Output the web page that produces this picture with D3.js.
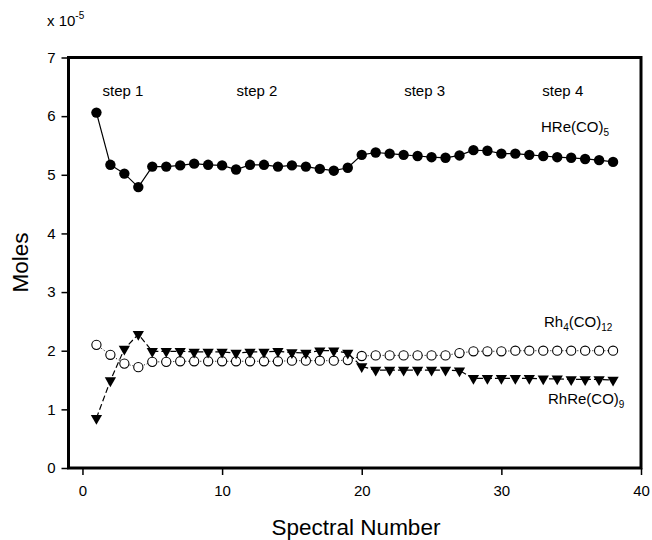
<!DOCTYPE html>
<html>
<head>
<meta charset="utf-8">
<script src="https://cdn.jsdelivr.net/npm/d3@7"></script>
<style>
  body { margin: 0; background: #fff; }
  text { font-family: "Liberation Sans", Arial, sans-serif; fill: #000; }
</style>
</head>
<body>
<div id="chart"></div>
<script>
const spectra = d3.range(1, 39);
const hre = [6.06, 5.17, 5.02, 4.79, 5.14, 5.14, 5.16, 5.19, 5.17, 5.16,
             5.09, 5.17, 5.17, 5.14, 5.16, 5.14, 5.10, 5.07, 5.12, 5.34,
             5.38, 5.36, 5.34, 5.32, 5.30, 5.29, 5.33, 5.42, 5.41, 5.36,
             5.36, 5.34, 5.32, 5.30, 5.29, 5.27, 5.25, 5.22];
const rh4 = [2.10, 1.93, 1.78, 1.72, 1.81, 1.81, 1.82, 1.82, 1.82, 1.82,
             1.82, 1.82, 1.82, 1.82, 1.83, 1.83, 1.83, 1.83, 1.84, 1.91,
             1.92, 1.92, 1.92, 1.92, 1.92, 1.92, 1.96, 1.99, 1.99, 1.99,
             2.00, 2.00, 2.00, 2.00, 2.00, 2.00, 2.00, 2.00];
const rhre = [0.85, 1.49, 2.03, 2.28, 1.99, 1.99, 1.99, 1.98, 1.98, 1.98,
              1.96, 1.98, 1.98, 1.99, 1.97, 1.96, 2.00, 2.00, 1.96, 1.73,
              1.67, 1.67, 1.67, 1.67, 1.67, 1.67, 1.66, 1.53, 1.53, 1.53,
              1.53, 1.53, 1.52, 1.52, 1.51, 1.51, 1.51, 1.50];
const steps = [{ name: 'step 1', x: 2.9 }, { name: 'step 2', x: 12.5 },
               { name: 'step 3', x: 24.5 }, { name: 'step 4', x: 34.4 }];
const xTicks = [0, 10, 20, 30, 40];
const yTicks = [0, 1, 2, 3, 4, 5, 6, 7];

const W = 652, H = 540;
const m = { left: 68.5, right: 641, top: 57.5, bottom: 468 };

const svg = d3.select('#chart').append('svg')
  .attr('width', W).attr('height', H);

const x = d3.scaleLinear().domain([-1, 40]).range([m.left, m.right]);
const y = d3.scaleLinear().domain([0, 7]).range([m.bottom, m.top]);

// axes
const yAxis = svg.append('g').attr('transform', `translate(${m.left},0)`)
  .call(d3.axisLeft(y).tickValues(yTicks).tickFormat(d3.format('d')).tickSize(7).tickPadding(6));
const xAxis = svg.append('g').attr('transform', `translate(0,${m.bottom})`)
  .call(d3.axisBottom(x).tickValues(xTicks).tickSize(7).tickPadding(10));
[xAxis, yAxis].forEach(g => {
  g.select('.domain').remove();
  g.selectAll('line').attr('stroke', '#000').attr('stroke-width', 1.5);
  g.selectAll('text').style('font-size', '15px')
    .style('font-family', '"Liberation Sans", Arial, sans-serif');
});

// frame
svg.append('rect')
  .attr('x', m.left).attr('y', m.top)
  .attr('width', m.right - m.left).attr('height', m.bottom - m.top)
  .attr('fill', 'none').attr('stroke', '#000').attr('stroke-width', 3);

const line = vals => d3.line()
  .x((d, i) => x(spectra[i]))
  .y(d => y(d))(vals);

svg.append('path').attr('d', line(hre))
  .attr('fill', 'none').attr('stroke', '#000').attr('stroke-width', 1.2);
svg.append('path').attr('d', line(rh4))
  .attr('fill', 'none').attr('stroke', '#000').attr('stroke-width', 1)
  .attr('stroke-dasharray', '1,2');
svg.append('path').attr('d', line(rhre))
  .attr('fill', 'none').attr('stroke', '#000').attr('stroke-width', 1.2)
  .attr('stroke-dasharray', '6,3');

// markers
svg.append('g').selectAll('circle').data(hre).join('circle')
  .attr('cx', (d, i) => x(spectra[i])).attr('cy', d => y(d))
  .attr('r', 5.2).attr('fill', '#000');

svg.append('g').selectAll('circle').data(rh4).join('circle')
  .attr('cx', (d, i) => x(spectra[i])).attr('cy', d => y(d))
  .attr('r', 4.6).attr('fill', '#fff').attr('stroke', '#000').attr('stroke-width', 1.1);

const tri = d3.symbol().type(d3.symbolTriangle).size(55);
svg.append('g').selectAll('path').data(rhre).join('path')
  .attr('d', tri)
  .attr('transform', (d, i) => `translate(${x(spectra[i])},${y(d)}) rotate(180)`)
  .attr('fill', '#000');

// step labels
svg.append('g').selectAll('text').data(steps).join('text')
  .attr('x', d => x(d.x)).attr('y', 96)
  .attr('text-anchor', 'middle').style('font-size', '15px')
  .text(d => d.name);

// series labels: parts alternate normal / subscript
function label(px, py, parts) {
  const t = svg.append('text').attr('x', px).attr('y', py).style('font-size', '15px');
  parts.forEach((p, i) => {
    const sub = i % 2 === 1;
    t.append('tspan')
      .attr('dy', i === 0 ? 0 : (sub ? 4 : -4))
      .style('font-size', sub ? '10px' : '15px')
      .text(p);
  });
}
label(541, 132, ['HRe(CO)', '5']);
label(544, 327, ['Rh', '4', '(CO)', '12']);
label(548, 404, ['RhRe(CO)', '9']);

// multiplier
const mult = svg.append('text').attr('x', 47).attr('y', 26).style('font-size', '15px');
mult.append('tspan').text('x 10');
mult.append('tspan').attr('dy', -7).style('font-size', '10px').text('-5');

// axis titles
svg.append('text').attr('x', 356).attr('y', 535)
  .attr('text-anchor', 'middle').style('font-size', '22.5px').text('Spectral Number');
svg.append('text').attr('transform', `translate(28,262.5) rotate(-90)`)
  .attr('text-anchor', 'middle').style('font-size', '22.5px').text('Moles');
</script>
</body>
</html>
